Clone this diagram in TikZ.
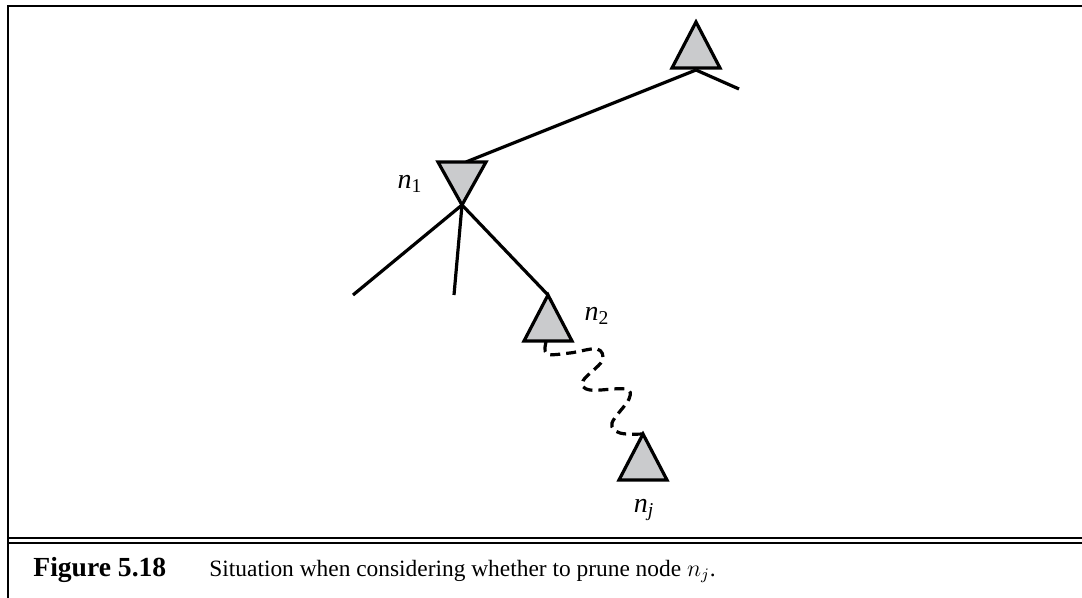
\documentclass[tikz,border=0pt]{standalone}
\usepackage{fontspec}
\setmainfont{Liberation Serif}
\definecolor{nodegray}{RGB}{202,203,205}
\tikzset{
  figsec/.style={x=0.5pt,y=-0.5pt,font=\fontsize{11.7}{14}\selectfont},
  tri/.style={draw,fill=nodegray,line width=1.6pt,line join=miter},
  edge/.style={line width=1.6pt},
  wiggle/.style={line width=1.6pt,dash pattern=on 5pt off 3pt},
  lbl/.style={font=\fontsize{14}{16}\selectfont},
}
\newcommand{\uptri}[1]{\filldraw[tri] (#1) -- ++(-24,46) -- ++(48,0) -- cycle;}
\newcommand{\downtri}[1]{\filldraw[tri] (#1) -- ++(-24,-43) -- ++(48,0) -- cycle;}

\begin{document}
\begin{tikzpicture}[figsec]
    \useasboundingbox (0,0) rectangle (1082,598);
    % frame and caption rule
    \draw[line width=1.3pt] (8,598) -- (8,6) -- (1082,6);
    \draw[line width=1pt] (9,538) -- (1082,538);
    \draw[line width=1pt] (9,543) -- (1082,543);
    % tree points
    \coordinate (root) at (696,22);
    \coordinate (rootj) at (696,70);
    \coordinate (rr) at (739,89);
    \coordinate (n1) at (462,205);
    \coordinate (n1top) at (466,162);
    \coordinate (c1) at (353,295);
    \coordinate (c2) at (454,295);
    \coordinate (n2) at (548,295);
    \coordinate (n2b) at (546,342);
    \coordinate (nj) at (643,434);
    % edges
    \draw[edge] (rootj) -- (n1top);
    \draw[edge] (rootj) -- (rr);
    \foreach \c in {c1,c2,n2} \draw[edge] (n1) -- (\c);
    \draw[wiggle] plot[smooth,tension=0.6] coordinates {(n2b) (547,354) (570,353) (597,349) (602,361) (583,381) (590,390) (625,389) (629,399) (612,423) (620,433) (nj)};
    % nodes
    \uptri{root}
    \downtri{n1}
    \uptri{n2}
    \uptri{nj}
    \node[lbl] (l1) at (410,184) {\textit{n}\textsubscript{1}};
    \node[lbl] (l2) at (597,316) {\textit{n}\textsubscript{2}};
    \node[lbl] (lj) at (644,510) {\textit{n}\textsubscript{\textit{j}}};
    % caption
    \node[anchor=base west,inner sep=0,font=\fontsize{13.8}{16}\selectfont\bfseries] (fig) at (33,576) {Figure 5.18};
    \node[anchor=base west,inner sep=0] (cap) at (209,576) {Situation when considering whether to prune node $n_j$.};
\end{tikzpicture}
\end{document}
